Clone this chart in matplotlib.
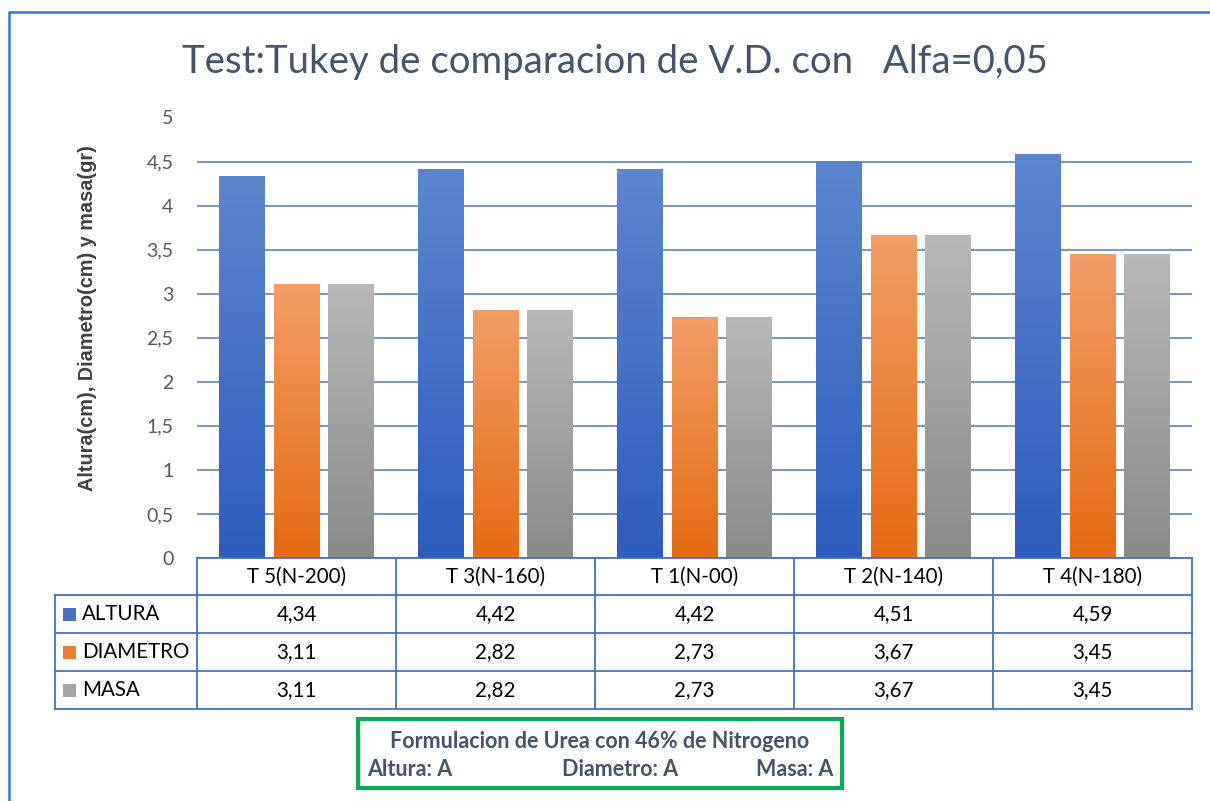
import numpy as np
import matplotlib
matplotlib.use('Agg')
from matplotlib import pyplot as plt
from matplotlib.patches import Rectangle
from matplotlib.colors import LinearSegmentedColormap

categorias = ['T 5(N-200)', 'T 3(N-160)', 'T 1(N-00)', 'T 2(N-140)', 'T 4(N-180)']
series = ['ALTURA', 'DIAMETRO', 'MASA']
altura = [4.34, 4.42, 4.42, 4.51, 4.59]
diametro = [3.11, 2.82, 2.73, 3.67, 3.45]
masa = [3.11, 2.82, 2.73, 3.67, 3.45]
yticks = [0, 0.5, 1, 1.5, 2, 2.5, 3, 3.5, 4, 4.5, 5]

titulo = 'Test:Tukey de comparacion de V.D. con   Alfa=0,05'
ylabel = 'Altura(cm), Diametro(cm) y masa(gr)'
nota = 'Formulacion de Urea con 46% de Nitrogeno'
nota_letras = ['Altura: A', 'Diametro: A', 'Masa: A']

# top / bottom colour of each gradient bar
colores = [('#5D86CF', '#2D5CBE'), ('#F29E68', '#E56A12'), ('#B8B8B8', '#8A8A8A')]
legend_col = ['#4472C4', '#ED7D31', '#A5A5A5']

plt.rcParams['font.family'] = ['Lato', 'DejaVu Sans']

W, H = 1210, 801
fig = plt.figure(figsize=(W / 100, H / 100), dpi=100)

def fx(x):
    return x / W

def fy(y):
    return 1 - y / H

def coma(v):
    return ('%g' % v).replace('.', ',')

# plot area in pixels
x0, x1, ytop, ybot = 197, 1192, 117.5, 558
ax = fig.add_axes([fx(x0), fy(ybot), fx(x1) - fx(x0), fy(ytop) - fy(ybot)])

datos = [altura, diametro, masa]
n = len(categorias)
xs = np.arange(n)
offs = [-0.275, 0, 0.275]
bw = 0.23

grad = np.linspace(0, 1, 256).reshape(-1, 1)
for k in range(3):
    bars = ax.bar(xs + offs[k], datos[k], bw, zorder=2)
    cmap = LinearSegmentedColormap.from_list('g%d' % k, [colores[k][1], colores[k][0]])
    for b in bars:
        bx, by, w, h = b.get_x(), b.get_y(), b.get_width(), b.get_height()
        im = ax.imshow(grad, cmap=cmap, extent=[bx, bx + w, by, by + h],
                       origin='lower', aspect='auto', zorder=2)
        im.set_clip_path(b)
        b.set_facecolor('none')
        b.set_edgecolor('none')

ax.set_xlim(-0.5, n - 0.5)
ax.set_ylim(0, 5)
ax.set_xticks([])
ax.set_yticks(yticks)
ax.set_yticklabels([coma(v) for v in yticks], color='#595959', fontsize=14)
ax.tick_params(axis='y', length=0, pad=17)
ax.grid(axis='y', color='#6A8DD0', lw=1.3)
ax.set_axisbelow(True)
for s in ax.spines.values():
    s.set_visible(False)

# overlay in pixel coordinates for table, title, note
ov = fig.add_axes([0, 0, 1, 1], zorder=5)
ov.set_xlim(0, W)
ov.set_ylim(H, 0)
ov.axis('off')
ov.patch.set_alpha(0)

# outer frame
ov.plot([9, 9, W + 5], [H + 5, 12, 12], color='#2F7BC4', lw=1.8)

ov.text(615, 62, titulo, ha='center', va='center', fontsize=27.6, color='#44546A')
ov.text(88, 318, ylabel, ha='center', va='center', rotation=90, fontsize=14.3,
        fontweight='bold', color='#404040',
        family=['Liberation Sans Narrow', 'Liberation Sans'])

# data table
tl = '#4472C4'
cols = np.linspace(x0, x1, n + 1)
rows = [558, 595, 633, 671, 709]
lx = 55
fs = 14.8
ov.plot([x0, x1], [rows[0], rows[0]], color=tl, lw=1.3)
for r in rows[1:]:
    ov.plot([lx, x1], [r, r], color=tl, lw=1.3)
ov.plot([lx, lx], [rows[1], rows[-1]], color=tl, lw=1.3)
for c in cols:
    ov.plot([c, c], [rows[0], rows[-1]], color=tl, lw=1.3)

for i, cat in enumerate(categorias):
    cx = (cols[i] + cols[i + 1]) / 2
    ov.text(cx, (rows[0] + rows[1]) / 2, cat, ha='center', va='center',
            fontsize=fs, color='black')
    for k in range(3):
        cy = (rows[k + 1] + rows[k + 2]) / 2
        ov.text(cx, cy, ('%.2f' % datos[k][i]).replace('.', ','), ha='center',
                va='center', fontsize=fs, color='black')

for k in range(3):
    cy = (rows[k + 1] + rows[k + 2]) / 2
    ov.add_patch(Rectangle((63, cy - 6.5), 13, 13, facecolor=legend_col[k],
                           edgecolor='none'))
    ov.text(82, cy, series[k], ha='left', va='center', fontsize=fs, color='black')

# note box
nfs = 15.5
ov.add_patch(Rectangle((358, 719), 484, 69, facecolor='white',
                       edgecolor='#00B050', lw=3))
ov.text(600, 742, nota, ha='center', va='center', fontsize=nfs,
        fontweight='bold', color='#44546A')
ov.text(367, 770, nota_letras[0], ha='left', va='center', fontsize=nfs,
        fontweight='bold', color='#44546A')
ov.text(620, 770, nota_letras[1], ha='center', va='center', fontsize=nfs,
        fontweight='bold', color='#44546A')
ov.text(833, 770, nota_letras[2], ha='right', va='center', fontsize=nfs,
        fontweight='bold', color='#44546A')

fig.savefig('out.png', dpi=100)
